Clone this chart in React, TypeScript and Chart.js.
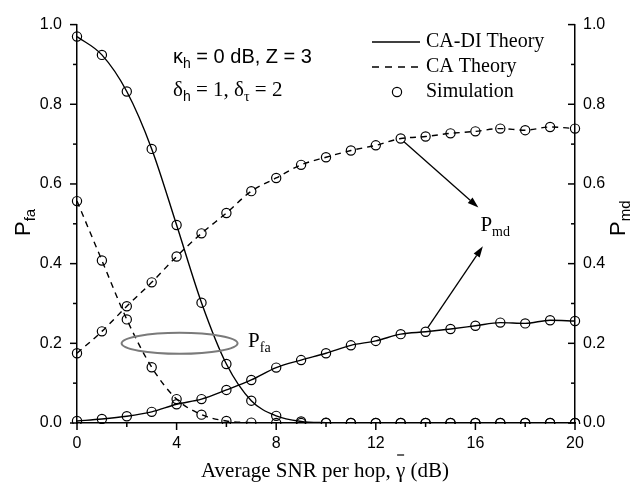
import { useEffect, useRef } from 'react';
import { Chart, registerables } from 'chart.js';

Chart.register(...registerables);

const snr = [0, 1, 2, 3, 4, 5, 6, 7, 8, 9, 10, 11, 12, 13, 14, 15, 16, 17, 18, 19, 20];
const pfaCADI = [0.97, 0.924, 0.832, 0.688, 0.497, 0.302, 0.148, 0.056, 0.018, 0.004, 0.001, 0, 0, 0, 0, 0, 0, 0, 0, 0, 0];
const pfaCA = [0.557, 0.408, 0.26, 0.14, 0.06, 0.021, 0.005, 0.001, 0, 0, 0, 0, 0, 0, 0, 0, 0, 0, 0, 0, 0];
const pmdCADI = [0.005, 0.01, 0.017, 0.028, 0.047, 0.06, 0.083, 0.108, 0.139, 0.158, 0.175, 0.195, 0.206, 0.223, 0.229, 0.236, 0.244, 0.252, 0.25, 0.258, 0.256];
const pmdCA = [0.175, 0.23, 0.293, 0.353, 0.418, 0.476, 0.527, 0.582, 0.615, 0.648, 0.667, 0.684, 0.697, 0.714, 0.719, 0.727, 0.732, 0.739, 0.735, 0.743, 0.739];
const legendLabels = ['CA-DI Theory', 'CA Theory', 'Simulation'];
const xTitle = ['Average SNR per hop, ', 'γ', ' (dB)'];

const SANS = "'Liberation Sans', Arial, sans-serif";
const SERIF = "'Liberation Serif', 'Times New Roman', serif";
const DASH = [6, 5];

const pts = (ys: number[]) => snr.map((x, i) => ({ x, y: ys[i] }));

function lineDs(ys: number[], dashed: boolean) {
  return {
    data: pts(ys),
    borderColor: '#000',
    borderWidth: 1.4,
    borderDash: dashed ? DASH : [],
    pointRadius: 0,
    cubicInterpolationMode: 'monotone' as const,
    fill: false,
    yAxisID: 'y',
  };
}
function simDs(ys: number[]) {
  return {
    data: pts(ys),
    showLine: false,
    borderColor: '#000',
    backgroundColor: 'rgba(0,0,0,0)',
    pointStyle: 'circle',
    pointRadius: 4.6,
    pointBorderWidth: 1.2,
    clip: { left: 10, right: 10, top: 10, bottom: 1 },
    yAxisID: 'y',
  };
}

function runs(ctx: CanvasRenderingContext2D, x: number, y: number, parts: [string, string, number][]) {
  let cx = x;
  for (const [t, f, dy] of parts) {
    ctx.font = f;
    ctx.fillText(t, cx, y + dy);
    cx += ctx.measureText(t).width;
  }
  return cx;
}

function seg(ctx: CanvasRenderingContext2D, x1: number, y1: number, x2: number, y2: number) {
  ctx.beginPath();
  ctx.moveTo(x1, y1);
  ctx.lineTo(x2, y2);
  ctx.stroke();
}

function arrow(ctx: CanvasRenderingContext2D, x1: number, y1: number, x2: number, y2: number) {
  const a = Math.atan2(y2 - y1, x2 - x1);
  const L = 11, W = 3.6;
  const bx = x2 - L * Math.cos(a), by = y2 - L * Math.sin(a);
  ctx.lineWidth = 1.3;
  seg(ctx, x1, y1, bx, by);
  ctx.beginPath();
  ctx.moveTo(x2, y2);
  ctx.lineTo(bx + W * Math.sin(a), by - W * Math.cos(a));
  ctx.lineTo(bx - W * Math.sin(a), by + W * Math.cos(a));
  ctx.closePath();
  ctx.fill();
}

const decor = {
  id: 'decor',
  afterDraw(chart: any) {
    const ctx: CanvasRenderingContext2D = chart.ctx;
    const xs = chart.scales.x;
    const ys = chart.scales.y;
    const A = chart.chartArea;
    const X = (v: number) => xs.getPixelForValue(v);
    const Y = (v: number) => ys.getPixelForValue(v);
    ctx.save();
    ctx.strokeStyle = '#000';
    ctx.fillStyle = '#000';
    ctx.lineWidth = 1.5;
    ctx.setLineDash([]);
    // tick marks
    for (let v = 0; v <= 20; v += 2) {
      const len = v % 4 === 0 ? 7 : 4;
      seg(ctx, X(v), A.bottom, X(v), A.bottom + len);
    }
    for (let i = 0; i <= 10; i++) {
      const py = Y(i / 10);
      const len = i % 2 === 0 ? 7 : 4;
      seg(ctx, A.left - len, py, A.left, py);
      seg(ctx, A.right - len, py, A.right, py);
    }

    ctx.textBaseline = 'alphabetic';
    ctx.textAlign = 'left';

    // y-axis titles
    const yTitle = (bx: number, by: number, sub: string) => {
      ctx.save();
      ctx.translate(bx, by);
      ctx.rotate(-Math.PI / 2);
      runs(ctx, 0, 0, [['P', `22px ${SANS}`, 0], [sub, `15px ${SANS}`, 5]]);
      ctx.restore();
    };
    yTitle(30, 236, 'fa');
    yTitle(625, 236, 'md');

    // x-axis title
    ctx.font = `21px ${SERIF}`;
    const full = xTitle.join('');
    const w = ctx.measureText(full).width;
    const sx = 325 - w / 2;
    const g0 = sx + ctx.measureText(xTitle[0]).width;
    const gw = ctx.measureText(xTitle[1]).width;
    ctx.fillText(full, sx, 477);
    ctx.lineWidth = 1.2;
    seg(ctx, g0 + gw / 2 - 3.5, 455, g0 + gw / 2 + 3.5, 455);

    // parameter text
    runs(ctx, 173, 63, [['κ', `20px ${SANS}`, 0], ['h', `14px ${SANS}`, 5], [' = 0 dB, Z = 3', `20px ${SANS}`, 0]]);
    runs(ctx, 173, 96, [['δ', `21px ${SERIF}`, 0], ['h', `14px ${SANS}`, 5], [' = 1, ', `21px ${SERIF}`, 0], ['δ', `21px ${SERIF}`, 0], ['τ', `14px ${SERIF}`, 5], [' = 2', `21px ${SERIF}`, 0]]);

    // Pfa annotation with ellipse
    ctx.save();
    ctx.strokeStyle = '#7a7a7a';
    ctx.lineWidth = 2;
    ctx.beginPath();
    ctx.ellipse(X(4.12), Y(0.2), 58, 10.5, 0, 0, Math.PI * 2);
    ctx.stroke();
    ctx.restore();
    runs(ctx, X(6.87), Y(0.19), [['P', `21px ${SERIF}`, 0], ['fa', `14px ${SERIF}`, 5]]);

    // Pmd annotation with arrows
    runs(ctx, X(16.2), Y(0.482), [['P', `21px ${SERIF}`, 0], ['md', `14px ${SERIF}`, 5]]);
    arrow(ctx, X(13) + 3, Y(pmdCA[13]) + 3, X(16.12), Y(0.541));
    arrow(ctx, X(14) + 2, Y(pmdCADI[14]) - 4, X(16.3), Y(0.4435));

    // legend
    ctx.lineWidth = 1.4;
    ctx.textBaseline = 'middle';
    ctx.font = `20px ${SERIF}`;
    seg(ctx, 372, 42, 420, 42);
    ctx.fillText(legendLabels[0], 426, 42);
    ctx.setLineDash([7, 6]);
    seg(ctx, 372, 67, 420, 67);
    ctx.setLineDash([]);
    ctx.fillText(legendLabels[1], 426, 67);
    ctx.lineWidth = 1.2;
    ctx.beginPath();
    ctx.arc(397, 92, 4.6, 0, Math.PI * 2);
    ctx.stroke();
    ctx.fillText(legendLabels[2], 426, 92);
    ctx.restore();
  },
};

const tickFont = { family: SANS, size: 16 };

export default function App() {
  const ref = useRef<HTMLCanvasElement>(null);
  useEffect(() => {
    const chart = new Chart(ref.current as HTMLCanvasElement, {
      type: 'line',
      data: {
        datasets: [
          lineDs(pfaCADI, false),
          lineDs(pfaCA, true),
          lineDs(pmdCADI, false),
          lineDs(pmdCA, true),
          simDs(pfaCADI),
          simDs(pfaCA),
          simDs(pmdCADI),
          simDs(pmdCA),
        ] as any,
      },
      options: {
        animation: false,
        responsive: false,
        devicePixelRatio: 1,
        layout: { padding: { top: 23, left: 0, right: 0, bottom: 0 } },
        plugins: { legend: { display: false }, tooltip: { enabled: false } },
        scales: {
          x: {
            type: 'linear',
            min: 0,
            max: 20,
            grid: { display: false, drawTicks: false },
            border: { display: true, color: '#000', width: 1.5 },
            ticks: { stepSize: 4, color: '#000', font: tickFont, padding: 11, maxRotation: 0 },
            afterFit: (s: any) => { s.height = 65; },
          },
          y: {
            type: 'linear',
            position: 'left',
            min: 0,
            max: 1,
            grid: { display: false, drawTicks: false },
            border: { display: true, color: '#000', width: 1.5 },
            ticks: { stepSize: 0.2, color: '#000', font: tickFont, padding: 15, callback: (v: any) => Number(v).toFixed(1) },
            afterFit: (s: any) => { s.width = 77; },
          },
          y2: {
            type: 'linear',
            position: 'right',
            min: 0,
            max: 1,
            grid: { display: false, drawTicks: false },
            border: { display: true, color: '#000', width: 1.5 },
            ticks: { stepSize: 0.2, color: '#000', font: tickFont, padding: 8, callback: (v: any) => Number(v).toFixed(1) },
            afterFit: (s: any) => { s.width = 63; },
          },
        },
      } as any,
      plugins: [decor],
    });
    return () => chart.destroy();
  }, []);
  return (
    <div style={{ position: 'absolute', left: 0, top: 0, width: 638, height: 488, background: '#fff' }}>
      <canvas ref={ref} width={638} height={488} style={{ display: 'block', width: 638, height: 488 }} />
    </div>
  );
}
